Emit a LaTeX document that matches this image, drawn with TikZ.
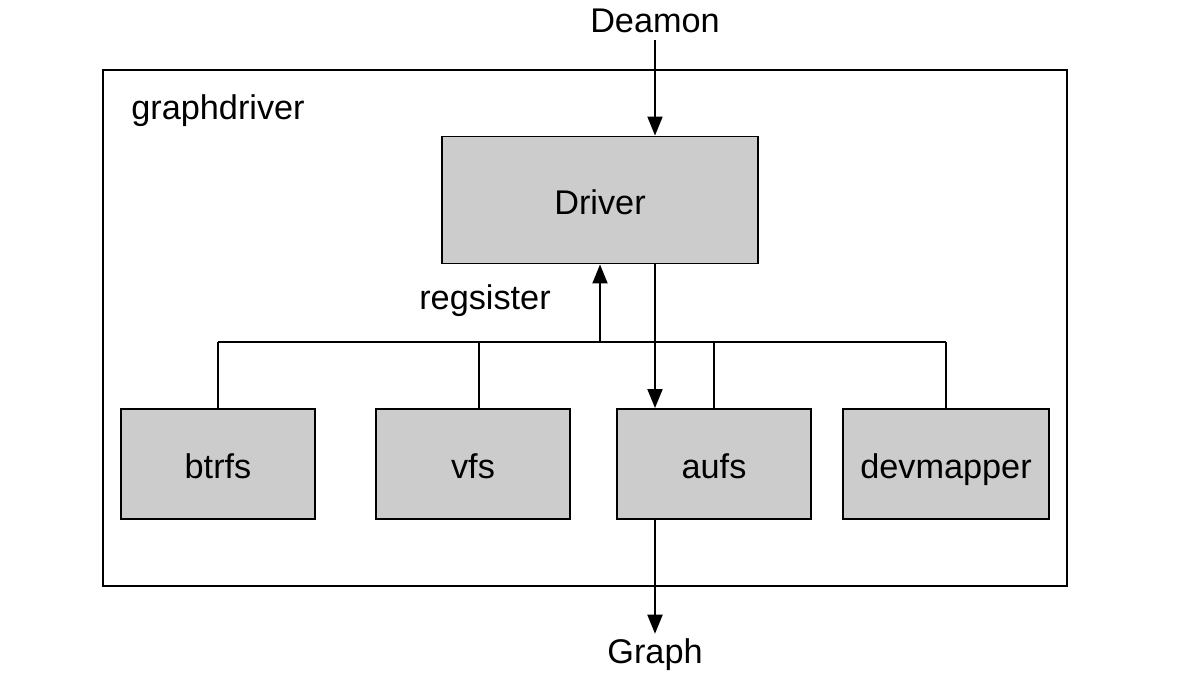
\documentclass[tikz,border=0pt]{standalone}
\usepackage{fontspec}
\setmainfont{Liberation Sans}
\usetikzlibrary{arrows.meta}

\tikzset{
  txt/.style={text height=17pt, text depth=0pt},
  drvbox/.style={txt, draw, fill=black!20, line width=1.1pt, minimum width=3.88cm, minimum height=2.2cm},
  flow/.style={line width=1.1pt, -{Triangle[width=0.3cm,length=0.38cm]}},
  link/.style={line width=1.1pt}
}

\begin{document}
\begin{tikzpicture}[x=0.02cm, y=-0.02cm, font=\fontsize{19.5}{23}\selectfont]
  \useasboundingbox (0,0) rectangle (1186,676);

  % outer frame
  \draw[link] (103,70) rectangle (1067,586);
  \node at (218,105) [txt] (gdlabel) {graphdriver};

  \node at (655,18) [txt, inner sep=4pt] (deamon) {Deamon};
  \node at (600,200) [drvbox, minimum width=6.32cm, minimum height=2.54cm] (driver) {Driver};
  \node at (485,295) [txt] (reg) {regsister};

  \node at (218,464) [drvbox] (btrfs) {btrfs};
  \node at (473,464) [drvbox] (vfs) {vfs};
  \node at (714,464) [drvbox] (aufs) {aufs};
  \node at (946,464) [drvbox, minimum width=4.12cm] (devmapper) {devmapper};
  \node at (655,649) [txt, inner sep=0pt] (graph) {Graph};

  \coordinate (busl) at (218,342);
  \coordinate (busr) at (946,342);
  \coordinate (busm) at (600,342);

  % bus to the drivers
  \draw[link] (busl) -- (busr);
  \draw[link] (btrfs.north) -- (btrfs.north |- busl);
  \draw[link] ([xshift=0.12cm]vfs.north) -- ([xshift=0.12cm]vfs.north |- busl);
  \draw[link] (aufs.north) -- (aufs.north |- busl);
  \draw[link] (devmapper.north) -- (devmapper.north |- busr);

  \draw[flow] (busm) -- (driver.south);
  \draw[flow] (deamon.south) -- (deamon.south |- driver.north);
  \draw[flow] (driver.south -| deamon) -- (aufs.north -| deamon);
  \draw[flow] (aufs.south -| graph) -- (graph.north);

\end{tikzpicture}
\end{document}
